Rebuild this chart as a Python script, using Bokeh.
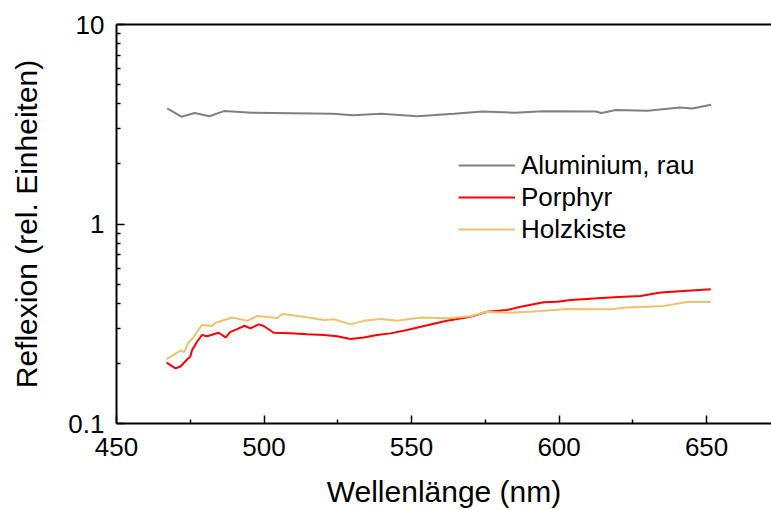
from bokeh.plotting import figure
from bokeh.models import (Range1d, LinearAxis, FixedTicker, CustomJSTickFormatter,
                          Legend, LegendItem)
from bokeh.embed import file_html
from bokeh.resources import INLINE

# ---- data ----
alu_wl = [467.2, 472.0, 476.5, 481.5, 486.4, 495.9, 509.6, 523.3, 530.2, 539.7,
          552.0, 564.4, 574.0, 585.0, 594.5, 612.4, 614.4, 619.2, 630.0, 641.0,
          645.2, 651.5]
alu_val = [3.80, 3.45, 3.60, 3.47, 3.68, 3.61, 3.59, 3.57, 3.51, 3.57,
           3.47, 3.57, 3.66, 3.61, 3.67, 3.66, 3.60, 3.73, 3.70, 3.84,
           3.79, 3.96]

por_wl = [467.0, 470.0, 471.7, 474.0, 475.0, 475.6, 477.3, 479.0, 480.7, 484.6,
          487.0, 488.6, 490.9, 493.4, 495.4, 498.2, 499.9, 503.3, 509.0, 514.6,
          520.3, 524.8, 529.3, 533.8, 538.3, 542.9, 548.5, 554.2, 562.0, 570.0,
          575.6, 582.4, 587.0, 594.8, 599.4, 603.9, 618.6, 627.6, 634.4, 651.4]
por_val = [0.202, 0.189, 0.193, 0.210, 0.216, 0.233, 0.257, 0.278, 0.274, 0.285,
           0.270, 0.288, 0.297, 0.309, 0.300, 0.314, 0.308, 0.285, 0.283, 0.280,
           0.278, 0.274, 0.265, 0.270, 0.278, 0.283, 0.294, 0.308, 0.327, 0.343,
           0.363, 0.371, 0.385, 0.405, 0.408, 0.416, 0.429, 0.436, 0.453, 0.471]

holz_wl = [467.0, 471.7, 473.0, 474.2, 476.2, 479.0, 482.4, 483.6, 489.2, 494.3,
           497.7, 504.5, 506.2, 513.5, 520.3, 523.7, 529.3, 533.8, 539.5, 545.1,
           553.0, 562.0, 570.0, 575.6, 582.4, 590.3, 602.7, 617.5, 623.1, 635.5,
           643.4, 651.4]
holz_val = [0.210, 0.232, 0.228, 0.252, 0.272, 0.312, 0.308, 0.320, 0.340, 0.327,
            0.346, 0.338, 0.354, 0.343, 0.330, 0.333, 0.314, 0.327, 0.334, 0.327,
            0.340, 0.337, 0.345, 0.363, 0.359, 0.363, 0.375, 0.374, 0.382, 0.388,
            0.406, 0.406]

series_names = ["Aluminium, rau", "Porphyr", "Holzkiste"]
series_colors = ["#808080", "#ff0000", "#ecc36c"]

x_major_ticks = [450, 500, 550, 600, 650]
x_minor_ticks = [475, 525, 575, 625]
y_major_ticks = [0.1, 1, 10]
y_minor_ticks = [0.2, 0.3, 0.4, 0.5, 0.6, 0.7, 0.8, 0.9, 2, 3, 4, 5, 6, 7, 8, 9]
x_title = "Wellenlänge (nm)"
y_title = "Reflexion (rel. Einheiten)"

X_MIN, X_MAX = 450, 672
Y_MIN, Y_MAX = 0.1, 10

FONT = "Liberation Sans"

p = figure(width=771, height=510, y_axis_type="log",
           x_range=Range1d(X_MIN, X_MAX), y_range=Range1d(Y_MIN, Y_MAX),
           output_backend="svg", toolbar_location=None,
           min_border_left=116, min_border_right=0,
           min_border_top=24, min_border_bottom=87)
p.outline_line_color = None
p.grid.visible = False
p.background_fill_color = "white"
p.border_fill_color = "white"

r1 = p.line(alu_wl, alu_val, line_color=series_colors[0], line_width=2)
r2 = p.line(por_wl, por_val, line_color=series_colors[1], line_width=2)
r3 = p.line(holz_wl, holz_val, line_color=series_colors[2], line_width=2)

# axes
xa = p.xaxis[0]
xa.ticker = FixedTicker(ticks=x_major_ticks, minor_ticks=x_minor_ticks)
ya = p.yaxis[0]
ya.ticker = FixedTicker(ticks=y_major_ticks, minor_ticks=y_minor_ticks)
ya.formatter = CustomJSTickFormatter(code="return String(Number(tick.toPrecision(6)));")

for ax in (xa, ya):
    ax.axis_line_width = 2
    ax.axis_line_color = "black"
    ax.major_tick_line_color = "black"
    ax.minor_tick_line_color = "black"
    ax.major_tick_line_width = 1.5
    ax.minor_tick_line_width = 1.5
    ax.major_tick_in = 8
    ax.major_tick_out = 0
    ax.minor_tick_in = 4
    ax.minor_tick_out = 0
    ax.major_label_text_font = FONT
    ax.major_label_text_font_size = "26px"
    ax.major_label_text_color = "black"
    ax.axis_label_text_font = FONT
    ax.axis_label_text_font_size = "30px"
    ax.axis_label_text_font_style = "normal"
    ax.axis_label_text_color = "black"

xa.axis_label = x_title
ya.axis_label = y_title
xa.major_label_standoff = 14
xa.axis_label_standoff = 16
ya.major_label_standoff = 12
ya.axis_label_standoff = 22

top = LinearAxis(ticker=FixedTicker(ticks=[]), major_label_text_font_size="0px",
                 major_tick_line_color=None, minor_tick_line_color=None,
                 axis_line_width=2, axis_line_color="black")
p.add_layout(top, "above")

legend = Legend(items=[LegendItem(label=series_names[0], renderers=[r1]),
                       LegendItem(label=series_names[1], renderers=[r2]),
                       LegendItem(label=series_names[2], renderers=[r3])],
                location=(342, 178))
legend.label_text_font = FONT
legend.label_text_font_size = "26px"
legend.label_text_color = "black"
legend.glyph_width = 57
legend.glyph_height = 32
legend.label_height = 32
legend.label_standoff = 6
legend.spacing = 0
legend.padding = 0
legend.margin = 0
legend.border_line_color = None
legend.background_fill_alpha = 0
p.add_layout(legend)

open("out.html", "w").write(file_html(p, INLINE))
